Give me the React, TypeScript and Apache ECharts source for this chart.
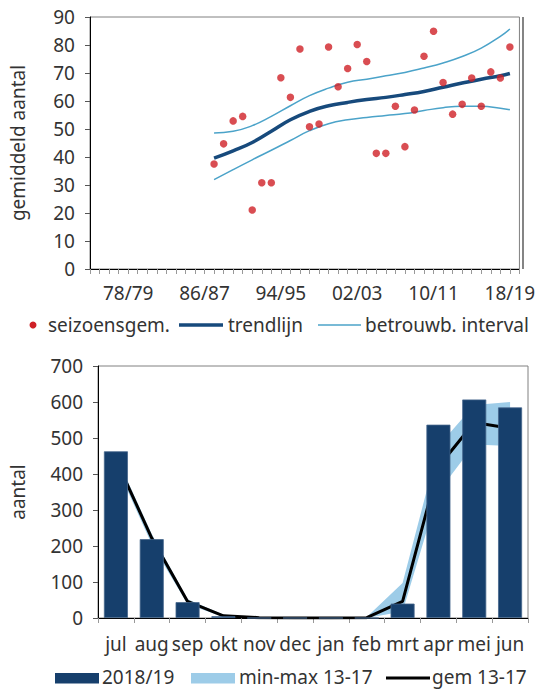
import React, { useEffect, useRef } from 'react';
import * as echarts from 'echarts';

const FONT = '"Noto Sans", sans-serif';
const TXT = '#333333';
const FS = 19;

// ---- top chart data ----
const seasons = [
  '74/75', '75/76', '76/77', '77/78', '78/79', '79/80', '80/81', '81/82', '82/83', '83/84',
  '84/85', '85/86', '86/87', '87/88', '88/89', '89/90', '90/91', '91/92', '92/93', '93/94',
  '94/95', '95/96', '96/97', '97/98', '98/99', '99/00', '00/01', '01/02', '02/03', '03/04',
  '04/05', '05/06', '06/07', '07/08', '08/09', '09/10', '10/11', '11/12', '12/13', '13/14',
  '14/15', '15/16', '16/17', '17/18', '18/19', '19/20',
];
const scatterSeasons = [
  '87/88', '88/89', '89/90', '90/91', '91/92', '92/93', '93/94', '94/95', '95/96', '96/97',
  '97/98', '98/99', '99/00', '00/01', '01/02', '02/03', '03/04', '04/05', '05/06', '06/07',
  '07/08', '08/09', '09/10', '10/11', '11/12', '12/13', '13/14', '14/15', '15/16', '16/17',
  '17/18', '18/19',
];
const seasonAvg = [
  37.5, 44.7, 52.9, 54.5, 21.1, 30.8, 30.8, 68.3, 61.3, 78.6,
  50.8, 51.8, 79.3, 65.1, 71.6, 80.2, 74.1, 41.3, 41.3, 58.1,
  43.7, 56.8, 76.0, 84.9, 66.6, 55.3, 58.8, 68.2, 58.1, 70.4,
  68.2, 79.3,
];
const trendSeasons = [
  '87/88', '89/90', '91/92', '93/94', '95/96', '97/98', '99/00', '01/02', '03/04',
  '05/06', '07/08', '09/10', '11/12', '13/14', '15/16', '17/18', '18/19',
];
const trendValues = [39.6, 42.2, 45.2, 49.2, 53.3, 56.3, 58.3, 59.5, 60.5, 61.3, 62.3, 63.4, 64.9, 66.4, 67.8, 69.0, 69.8];
const upperValues = [48.6, 49.2, 51.2, 54.5, 58.3, 61.9, 64.6, 66.7, 67.8, 69.0, 70.2, 71.8, 73.6, 75.9, 78.9, 83.1, 85.7];
const lowerValues = [31.9, 35.5, 39.0, 42.4, 45.9, 49.4, 51.9, 53.3, 54.1, 54.8, 55.5, 56.6, 57.6, 58.1, 58.1, 57.4, 56.9];
const topYTicks = { min: 0, max: 90, step: 10 };

// ---- bottom chart data ----
const months = ['jul', 'aug', 'sep', 'okt', 'nov', 'dec', 'jan', 'feb', 'mrt', 'apr', 'mei', 'jun'];
const count2018 = [463, 219, 44, 5, 0, 0, 0, 0, 40, 537, 607, 585];
const gem1317 = [440, 222, 46, 6, 1, 0, 0, 1, 46, 420, 543, 527];
const min1317 = [425, 205, 38, 3, 0, 0, 0, 0, 18, 350, 482, 478];
const max1317 = [452, 233, 52, 9, 2, 0, 0, 3, 97, 478, 592, 600];
const bottomYTicks = { min: 0, max: 700, step: 100 };

const RED = '#cf2027';
const NAVY = '#174a7c';
const LIGHT = '#4ba3c9';
const BAR = '#163f6c';
const BAND = '#9dcce8';

const zip = (names: string[], vals: number[]) => names.map((n, i) => [n, vals[i]]);

function legendText(text: string, x: number, y: number) {
  return {
    type: 'text',
    x,
    y,
    style: { text, fill: TXT, font: `${FS}px ${FONT}`, verticalAlign: 'middle', lineHeight: FS },
  };
}

function buildOption(): any {
  const labelStyle = { fontSize: FS, color: TXT, fontFamily: FONT };
  return {
    animation: false,
    textStyle: { fontFamily: FONT },
    grid: [
      { left: 83, top: 17, width: 440, height: 252, show: true, borderColor: '#808080', borderWidth: 1 },
      { left: 88, top: 366, width: 440, height: 252, show: true, borderColor: '#808080', borderWidth: 1 },
    ],
    xAxis: [
      {
        gridIndex: 0,
        type: 'category',
        data: seasons,
        boundaryGap: false,
        axisLine: { lineStyle: { color: '#000', width: 1 } },
        axisTick: { show: true, interval: 0, length: 5, lineStyle: { color: '#999' } },
        axisLabel: { ...labelStyle, margin: 14, interval: (i: number) => i >= 4 && (i - 4) % 8 === 0 },
        splitLine: { show: false },
      },
      {
        gridIndex: 1,
        type: 'category',
        data: months,
        boundaryGap: true,
        axisLine: { lineStyle: { color: '#000', width: 1 } },
        axisTick: { show: true, interval: 0, length: 5, lineStyle: { color: '#999' } },
        axisLabel: { ...labelStyle, margin: 16, interval: 0 },
        splitLine: { show: false },
      },
    ],
    yAxis: [
      {
        gridIndex: 0,
        type: 'value',
        min: topYTicks.min,
        max: topYTicks.max,
        interval: topYTicks.step,
        axisLine: { show: true, lineStyle: { color: '#000', width: 1 } },
        axisTick: { show: true, length: 5, lineStyle: { color: '#555' } },
        axisLabel: { ...labelStyle, margin: 15 },
        splitLine: { show: false },
        name: 'gemiddeld aantal',
        nameLocation: 'middle',
        nameGap: 63,
        nameTextStyle: { ...labelStyle },
      },
      {
        gridIndex: 1,
        type: 'value',
        min: bottomYTicks.min,
        max: bottomYTicks.max,
        interval: bottomYTicks.step,
        axisLine: { show: true, lineStyle: { color: '#000', width: 1 } },
        axisTick: { show: true, length: 5, lineStyle: { color: '#555' } },
        axisLabel: { ...labelStyle, margin: 15 },
        splitLine: { show: false },
        name: 'aantal',
        nameLocation: 'middle',
        nameGap: 71,
        nameTextStyle: { ...labelStyle },
      },
    ],
    series: [
      {
        name: 'betrouwb. interval boven',
        type: 'line',
        xAxisIndex: 0,
        yAxisIndex: 0,
        data: zip(trendSeasons, upperValues),
        smooth: true,
        showSymbol: false,
        lineStyle: { color: LIGHT, width: 1.5 },
        z: 2,
      },
      {
        name: 'betrouwb. interval onder',
        type: 'line',
        xAxisIndex: 0,
        yAxisIndex: 0,
        data: zip(trendSeasons, lowerValues),
        smooth: true,
        showSymbol: false,
        lineStyle: { color: LIGHT, width: 1.5 },
        z: 2,
      },
      {
        name: 'trendlijn',
        type: 'line',
        xAxisIndex: 0,
        yAxisIndex: 0,
        data: zip(trendSeasons, trendValues),
        smooth: true,
        showSymbol: false,
        lineStyle: { color: NAVY, width: 3.5 },
        z: 3,
      },
      {
        name: 'seizoensgem.',
        type: 'scatter',
        xAxisIndex: 0,
        yAxisIndex: 0,
        data: zip(scatterSeasons, seasonAvg),
        symbolSize: 7.5,
        itemStyle: { color: RED },
        z: 4,
      },
      {
        name: 'min',
        type: 'line',
        xAxisIndex: 1,
        yAxisIndex: 1,
        stack: 'band',
        data: min1317,
        showSymbol: false,
        lineStyle: { width: 0, opacity: 0 },
        z: 2,
      },
      {
        name: 'min-max 13-17',
        type: 'line',
        xAxisIndex: 1,
        yAxisIndex: 1,
        stack: 'band',
        data: max1317.map((v, i) => v - min1317[i]),
        showSymbol: false,
        lineStyle: { width: 0, opacity: 0 },
        areaStyle: { color: BAND, opacity: 1 },
        z: 2,
      },
      {
        name: 'gem 13-17',
        type: 'line',
        xAxisIndex: 1,
        yAxisIndex: 1,
        data: gem1317,
        showSymbol: false,
        lineStyle: { color: '#000', width: 3 },
        z: 3,
      },
      {
        name: '2018/19',
        type: 'bar',
        xAxisIndex: 1,
        yAxisIndex: 1,
        data: count2018,
        barWidth: 24,
        itemStyle: { color: BAR, borderColor: '#45668c', borderWidth: 0.8 },
        z: 4,
      },
    ],
    graphic: [
      // darker right frame edge of the top chart
      { type: 'line', shape: { x1: 523, y1: 17, x2: 523, y2: 269 }, style: { stroke: '#333', lineWidth: 1.2 } },
      // top legend
      { type: 'circle', shape: { cx: 33, cy: 325, r: 3.5 }, style: { fill: RED } },
      legendText('seizoensgem.', 48, 325),
      { type: 'line', shape: { x1: 179, y1: 325, x2: 223, y2: 325 }, style: { stroke: NAVY, lineWidth: 3.5 } },
      legendText('trendlijn', 228, 325),
      { type: 'line', shape: { x1: 318, y1: 325, x2: 361, y2: 325 }, style: { stroke: LIGHT, lineWidth: 1.5 } },
      legendText('betrouwb. interval', 365, 325),
      // bottom legend
      { type: 'rect', shape: { x: 55, y: 673, width: 44, height: 10.5 }, style: { fill: BAR } },
      legendText('2018/19', 102, 677),
      { type: 'rect', shape: { x: 191, y: 673, width: 44, height: 10.5 }, style: { fill: BAND } },
      legendText('min-max 13-17', 239, 677),
      { type: 'line', shape: { x1: 386, y1: 678, x2: 430, y2: 678 }, style: { stroke: '#000', lineWidth: 3 } },
      legendText('gem 13-17', 432, 677),
    ],
  };
}

export default function App() {
  const ref = useRef<HTMLDivElement>(null);
  useEffect(() => {
    document.body.style.margin = '0';
    const chart = echarts.init(ref.current!, null, { renderer: 'svg' });
    chart.setOption(buildOption());
    return () => chart.dispose();
  }, []);
  return <div ref={ref} style={{ width: 538, height: 689 }} />;
}
